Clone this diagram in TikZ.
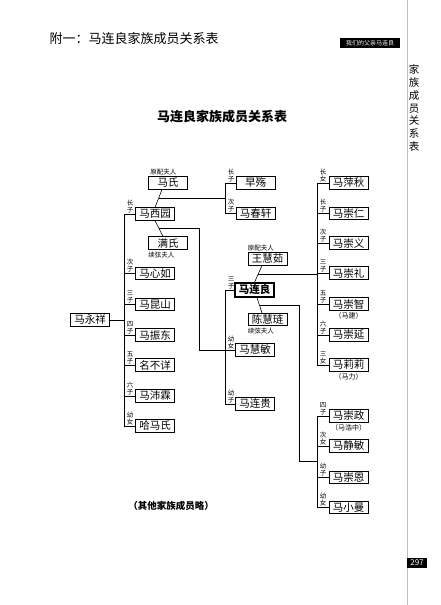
\documentclass[tikz,border=0pt]{standalone}
\usepackage{fontspec}
\setmainfont{Noto Sans CJK SC}
\usetikzlibrary{calc}
\begin{document}
\begin{tikzpicture}[x=1pt,y=-1pt,
 pbox/.style={draw,line width=0.7pt,minimum width=39pt,minimum height=12.5pt,inner sep=0pt,font=\fontsize{10.5}{11}\selectfont},
 rel/.style={font=\fontsize{6.5}{6.8}\selectfont,align=center,inner sep=0pt,anchor=south},
 note/.style={font=\fontsize{6.5}{7}\selectfont,inner sep=0pt},
 alias/.style={font=\fontsize{7}{7}\selectfont,inner sep=0pt,anchor=north},
 conn/.style={line width=0.6pt},
]
\useasboundingbox (0,0) rectangle (440,605);
% page furniture
\draw[gray!50,line width=0.6pt] (407,0) -- (407,605);
\node[font=\fontsize{13}{13}\selectfont] (hdr) at (134,39) {附一：马连良家族成员关系表};
\node[fill=black,text=white,font=\fontsize{6}{6}\selectfont,minimum width=60pt,minimum height=10pt,inner sep=0pt] (tab) at (370,43) {我们的父亲马连良};
\node[font=\fontsize{10.5}{12.7}\selectfont,align=center,inner sep=0pt] (side) at (414,108) {家\\族\\成\\员\\关\\系\\表};
\node[fill=black,text=white,font=\fontsize{8}{8}\selectfont,minimum width=20pt,minimum height=10pt,inner sep=0pt] (pg) at (417,563) {297};
\node[font=\bfseries\fontsize{13}{13}\selectfont] (title) at (222,117) {马连良家族成员关系表};
\node[font=\bfseries\fontsize{9.5}{10}\selectfont] (foot) at (171,506) {（其他家族成员略）};

% trunk x positions
\coordinate (tL) at (124,0);
\coordinate (tM) at (225,0);
\coordinate (tR) at (317,0);
\coordinate (vA) at (199,0);
\coordinate (vB) at (299,0);

% left column
\node[pbox] (myx) at (90,320) {马永祥};
\node[pbox] (mashi) at (168,183) {马氏};
\node[pbox] (mxy) at (155,214) {马西园};
\node[pbox] (manshi) at (168,243) {满氏};
\node[pbox] (mxr) at (155,273.5) {马心如};
\node[pbox] (mks) at (155,304.5) {马昆山};
\node[pbox] (mzd) at (155,335) {马振东};
\node[pbox] (mbx) at (155,365) {名不详};
\node[pbox] (mpl) at (155,396) {马沛霖};
\node[pbox] (hms) at (155,426) {哈马氏};

% middle column
\node[pbox] (zs) at (255.5,183) {早殇};
\node[pbox] (mcx) at (255.5,213.5) {马春轩};
\node[pbox] (whr) at (267.5,259) {王慧茹};
\node[pbox,line width=1.3pt,minimum height=14pt,font=\bfseries\fontsize{10.5}{11}\selectfont] (mll) at (254.5,290) {马连良};
\node[pbox] (chl) at (267.5,319.5) {陈慧琏};
\node[pbox] (mhm) at (255,350) {马慧敏};
\node[pbox] (mlg) at (255,404) {马连贵};

% right column
\node[pbox] (mpq) at (348.5,183) {马萍秋};
\node[pbox] (mcr) at (348.5,213.5) {马崇仁};
\node[pbox] (mcy) at (348.5,243) {马崇义};
\node[pbox] (mcl) at (348.5,273) {马崇礼};
\node[pbox] (mcz) at (348.5,304) {马崇智};
\node[pbox] (mcyan) at (348.5,335) {马崇延};
\node[pbox] (mli) at (348.5,365) {马莉莉};
\node[pbox] (mczh) at (348.5,416) {马崇政};
\node[pbox] (mjm) at (348.5,446) {马静敏};
\node[pbox] (mce) at (348.5,477.5) {马崇恩};
\node[pbox] (mxm) at (348.5,507.5) {马小曼};

% aliases
\node[alias] (a1) at ($(mcz.south)+(0,1.5)$) {（马建）};
\node[alias] (a2) at ($(mli.south)+(0,1.5)$) {（马力）};
\node[alias] (a3) at ($(mczh.south)+(0,1.5)$) {（马浩中）};

% spouse notes
\node[note,anchor=south west] (n1) at ($(mashi.north west)+(2,-1)$) {原配夫人};
\node[note,anchor=north west] (n2) at ($(manshi.south west)+(0,2)$) {续弦夫人};
\node[note,anchor=south west] (n3) at ($(whr.north west)+(0,-1)$) {原配夫人};
\node[note,anchor=north west] (n4) at ($(chl.south west)+(0,2)$) {续弦夫人};

% left trunk
\draw[conn] (myx.east) -- (tL |- myx);
\draw[conn] (tL |- mxy) -- (tL |- hms);
\foreach \n in {mxy,mxr,mks,mzd,mbx,mpl,hms} \draw[conn] (tL |- \n) -- (\n.west);
% middle upper trunk
\draw[conn] (tM |- zs) -- (tM |- mcx);
\foreach \n in {zs,mcx} \draw[conn] (tM |- \n) -- (\n.west);
% middle lower trunk
\draw[conn] (tM |- mll) -- (tM |- mlg);
\foreach \n in {mll,mhm,mlg} \draw[conn] (tM |- \n) -- (\n.west);
% right trunks
\draw[conn] (tR |- mpq) -- (tR |- mli);
\foreach \n in {mpq,mcr,mcy,mcl,mcz,mcyan,mli} \draw[conn] (tR |- \n) -- (\n.west);
\draw[conn] (tR |- mczh) -- (tR |- mxm);
\foreach \n in {mczh,mjm,mce,mxm} \draw[conn] (tR |- \n) -- (\n.west);

% marriages
\draw[conn] ($(mashi.south)+(-6,0)$) -- (mxy.north) coordinate[pos=0.5] (m1);
\draw[conn] (m1) -- (tM |- m1);
\draw[conn] (mxy.south) -- ($(manshi.north)+(-5,0)$) coordinate[pos=0.5] (m2);
\draw[conn] (m2) -- (vA |- m2) -- (vA |- mhm) -- (tM |- mhm);
\draw[conn] ($(whr.south)+(-5.5,0)$) -- (mll.north) coordinate[pos=0.5] (m3);
\draw[conn] (m3) -- (tR |- m3);
\draw[conn] ($(mll.south)+(2.5,0)$) -- ($(chl.north)+(-5.5,0)$) coordinate[pos=0.5] (m4);
\coordinate (j4) at ($(mjm)!0.5!(mce)$);
\draw[conn] (m4) -- (vB |- m4) -- (vB |- j4) -- (tR |- j4);

% relation labels
\newcommand\relab[3]{\node[rel] (#1) at ($(#2)+(6,-1)$) {#3};}
\relab{r1}{tL |- mxy}{长\\子}
\relab{r2}{tL |- mxr}{次\\子}
\relab{r3}{tL |- mks}{三\\子}
\relab{r4}{tL |- mzd}{四\\子}
\relab{r5}{tL |- mbx}{五\\子}
\relab{r6}{tL |- mpl}{六\\子}
\relab{r7}{tL |- hms}{幼\\女}
\relab{r8}{tM |- zs}{长\\子}
\relab{r9}{tM |- mcx}{次\\子}
\relab{r10}{tM |- mll}{三\\子}
\relab{r11}{tM |- mhm}{幼\\女}
\relab{r12}{tM |- mlg}{幼\\子}
\relab{r13}{tR |- mpq}{长\\女}
\relab{r14}{tR |- mcr}{长\\子}
\relab{r15}{tR |- mcy}{次\\子}
\relab{r16}{tR |- mcl}{三\\子}
\relab{r17}{tR |- mcz}{五\\子}
\relab{r18}{tR |- mcyan}{六\\子}
\relab{r19}{tR |- mli}{三\\女}
\relab{r20}{tR |- mczh}{四\\子}
\relab{r21}{tR |- mjm}{次\\女}
\relab{r22}{tR |- mce}{幼\\子}
\relab{r23}{tR |- mxm}{幼\\女}
\end{tikzpicture}
\end{document}
